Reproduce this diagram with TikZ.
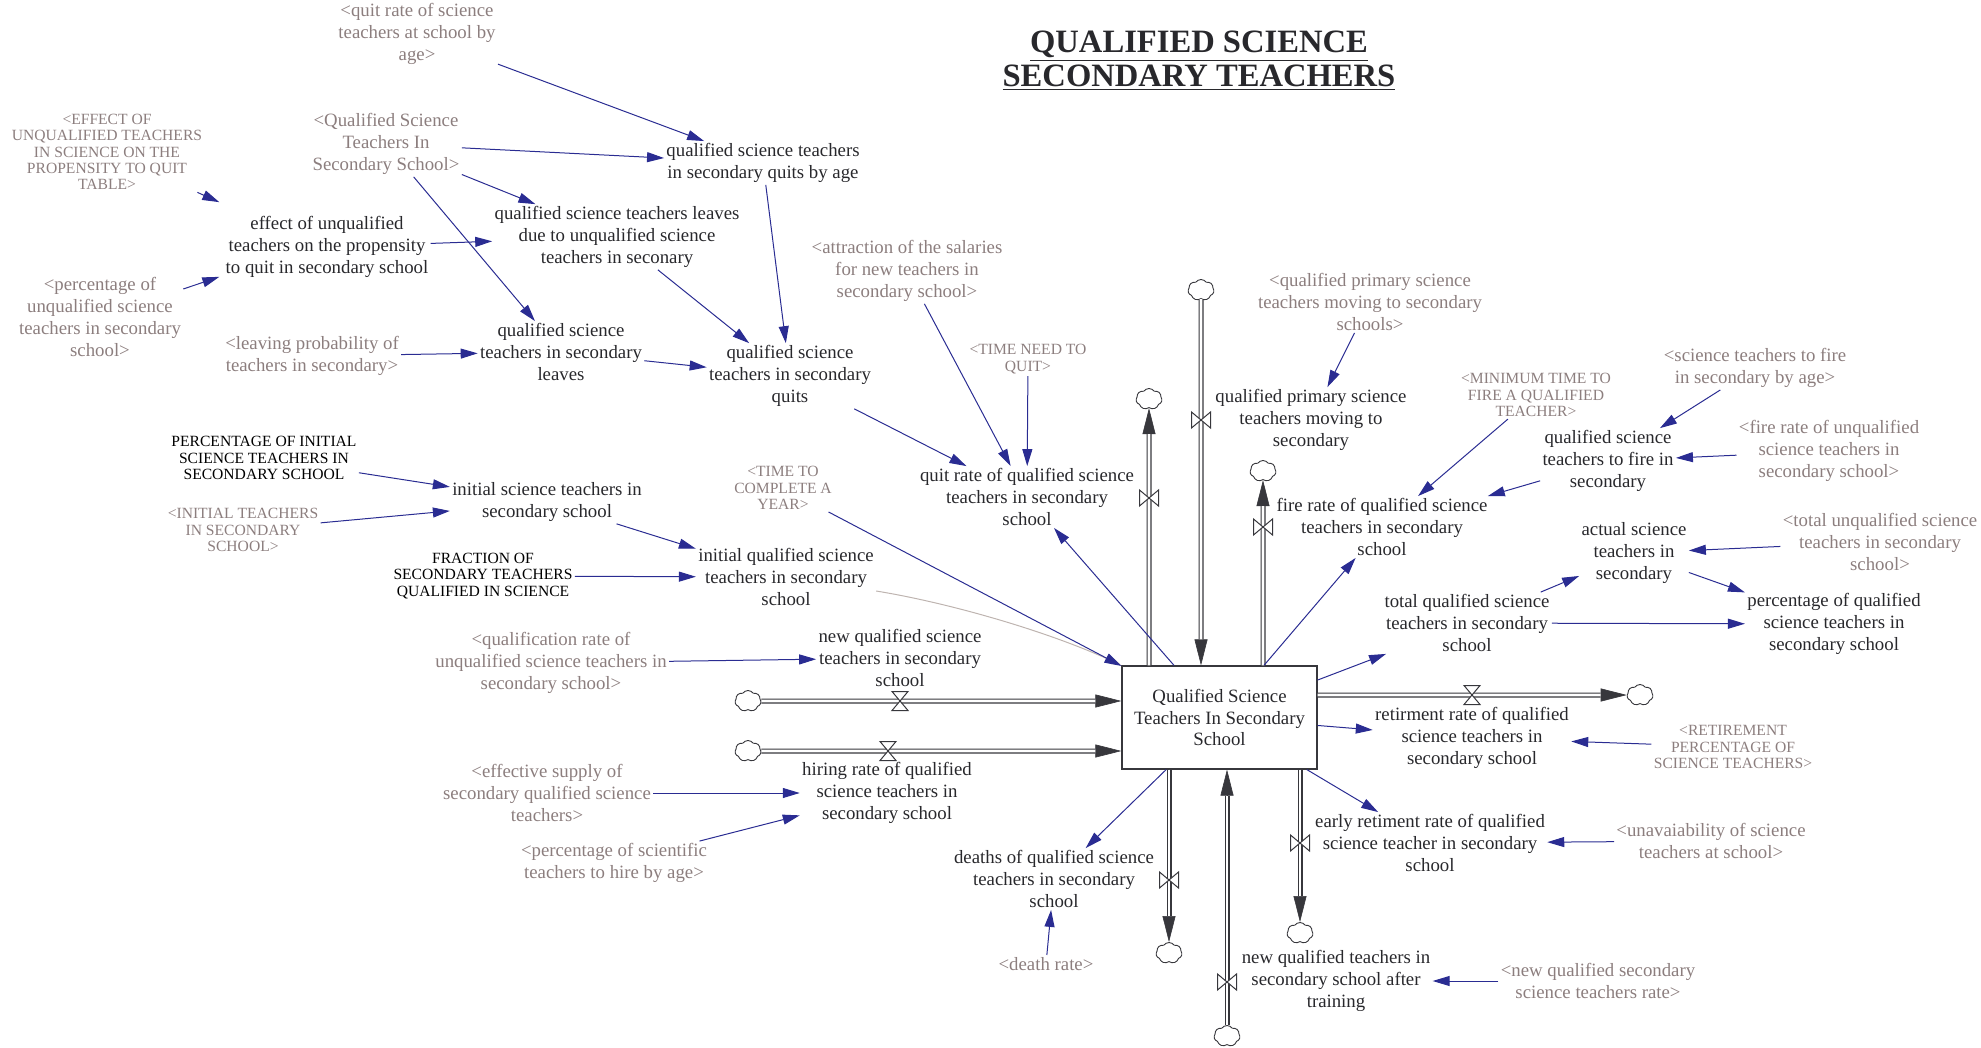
\documentclass[tikz,border=0pt]{standalone}
\usepackage{fontspec}
\setmainfont{Liberation Serif}
\usetikzlibrary{arrows.meta,shapes.symbols}

\definecolor{LinkBlue}{RGB}{42,44,146}
\definecolor{GhostGray}{RGB}{140,126,126}
\definecolor{InkGray}{RGB}{40,40,44}
\definecolor{PipeGray}{RGB}{55,55,60}
\definecolor{CurveGray}{RGB}{190,180,176}

\newcommand{\varfont}{\fontsize{9.4}{10.9}\selectfont}
\newcommand{\capsfont}{\fontsize{7.8}{8.2}\selectfont}
% pipe with its solid head: thin line + tip first, the double pipe on top
\newcommand{\flowpipe}[2]{\draw[pipehead] (#1) -- (#2); \draw[pipe] (#1) -- (#2);}

\tikzset{
	var/.style={align=center, font=\varfont, text=InkGray, inner sep=1pt},
	ghost/.style={var, text=GhostGray},
	capsvar/.style={align=center, font=\capsfont, text=black, inner sep=1pt},
	capsghost/.style={capsvar, text=GhostGray},
	stockbox/.style={var, draw=PipeGray, line width=0.6pt, minimum width=97.5pt, minimum height=51.5pt},
	sourcecloud/.style={cloud, cloud puffs=7, cloud puff arc=110, cloud ignores aspect, draw=PipeGray, fill=white, line width=0.45pt, minimum width=13pt, minimum height=10.5pt, inner sep=0pt},
	infolink/.style={draw=LinkBlue, line width=0.5pt, -{Triangle[length=8.5pt, width=5pt]}},
	curvelink/.style={draw=CurveGray, line width=0.5pt, -{Triangle[length=5pt, width=3pt]}},
	pipe/.style={draw=PipeGray, line width=0.55pt, double=white, double distance=1.4pt, shorten >=13pt},
	pipehead/.style={draw=PipeGray, fill=PipeGray, line width=0.3pt, -{Triangle[length=13pt, width=6.5pt]}},
	valve/.pic={\draw[PipeGray, fill=white, line width=0.5pt] (-8,-9.5) -- (8,-9.5) -- (-8,9.5) -- (8,9.5) -- cycle;}
}

\begin{document}
\begin{tikzpicture}[x=0.5pt,y=0.5pt,yscale=-1,xscale=1]
	\useasboundingbox (0,0) rectangle (1981,1048);

	% Title
	\node[align=center, font=\fontsize{16.3}{17}\selectfont\bfseries, text=InkGray] (title) at (1199,61) {\underline{QUALIFIED SCIENCE}\\\underline{SECONDARY TEACHERS}};

	% The stock
	\node[stockbox] (stock) at (1219.5,717.5) {Qualified Science\\Teachers In Secondary\\School};

	% Clouds at the free ends of the pipes
	\node[sourcecloud] (cloudNewQ) at (748,701) {};
	\node[sourcecloud] (cloudHire) at (748,751) {};
	\node[sourcecloud] (cloudPrim) at (1201,290) {};
	\node[sourcecloud] (cloudQuit) at (1149,399) {};
	\node[sourcecloud] (cloudFire) at (1263,471) {};
	\node[sourcecloud] (cloudRetire) at (1640,695) {};
	\node[sourcecloud] (cloudDeath) at (1169,953) {};
	\node[sourcecloud] (cloudEarly) at (1300,933) {};
	\node[sourcecloud] (cloudAfter) at (1227,1036) {};

	% Inflows
	\flowpipe{cloudNewQ}{cloudNewQ -| stock.west}
	\flowpipe{cloudHire}{cloudHire -| stock.west}
	\flowpipe{cloudPrim}{cloudPrim |- stock.north}
	\flowpipe{cloudAfter}{cloudAfter |- stock.south}

	% Outflows
	\flowpipe{cloudQuit |- stock.north}{cloudQuit}
	\flowpipe{cloudFire |- stock.north}{cloudFire}
	\flowpipe{cloudRetire -| stock.east}{cloudRetire}
	\flowpipe{cloudDeath |- stock.south}{cloudDeath}
	\flowpipe{cloudEarly |- stock.south}{cloudEarly}

	% Valves on the pipes
	\pic at (900,701) {valve};
	\pic at (888,751) {valve};
	\pic at (1472,695) {valve};
	\pic[rotate=90] at (1201,420) {valve};
	\pic[rotate=90] at (1149,498) {valve};
	\pic[rotate=90] at (1263,527) {valve};
	\pic[rotate=90] at (1169,880) {valve};
	\pic[rotate=90] at (1300,843) {valve};
	\pic[rotate=90] at (1227,982) {valve};

	% Flow rates
	\node[var] (newQ) at (900,658) {new qualified science\\teachers in secondary\\school};
	\node[var] (hiring) at (887,793) {hiring rate of qualified\\science teachers in\\secondary school};
	\node[var] (primaryMoving) at (1311,420) {qualified primary science\\teachers moving to\\secondary};
	\node[var] (quitRate) at (1027,497) {quit rate of qualified science\\teachers in secondary\\school};
	\node[var] (fireRate) at (1382,527) {fire rate of qualified science\\teachers in secondary\\school};
	\node[var] (retire) at (1472,738) {retirment rate of qualified\\science teachers in\\secondary school};
	\node[var] (early) at (1430,843) {early retiment rate of qualified\\science teacher in secondary\\school};
	\node[var] (deaths) at (1054,879) {deaths of qualified science\\teachers in secondary\\school};
	\node[var] (newAfter) at (1336,981) {new qualified teachers in\\secondary school after\\training};

	% Auxiliaries
	\node[var] (effectVar) at (327,247) {effect of unqualified\\teachers on the propensity\\to quit in secondary school};
	\node[var] (qsLeaves) at (561,352) {qualified science\\teachers in secondary\\leaves};
	\node[var] (qsLeavesUnq) at (617,237) {qualified science teachers leaves\\due to unqualified science\\teachers in seconary};
	\node[var] (quitsByAge) at (763,163) {qualified science teachers\\in secondary quits by age};
	\node[var] (qsQuits) at (790,376) {qualified science\\teachers in secondary\\quits};
	\node[var] (toFire) at (1608,461) {qualified science\\teachers to fire in\\secondary};
	\node[var] (actual) at (1634,553) {actual science\\teachers in\\secondary};
	\node[var] (totalQ) at (1467,623) {total qualified science\\teachers in secondary\\school};
	\node[var] (pctQ) at (1834,624) {percentage of qualified\\science teachers in\\secondary school};
	\node[var] (initSci) at (547,502) {initial science teachers in\\secondary school};
	\node[var] (initQ) at (786,577) {initial qualified science\\teachers in secondary\\school};

	% Constants
	\node[capsvar] (pctInit) at (264,458) {PERCENTAGE OF INITIAL\\SCIENCE TEACHERS IN\\SECONDARY SCHOOL};
	\node[capsvar] (fraction) at (483,576) {FRACTION OF\\SECONDARY TEACHERS\\QUALIFIED IN SCIENCE};

	% Shadow variables
	\node[ghost] (quitRateAge) at (417,34) {<quit rate of science\\teachers at school by\\age>};
	\node[capsghost] (effectTable) at (107,152) {<EFFECT OF\\UNQUALIFIED TEACHERS\\IN SCIENCE ON THE\\PROPENSITY TO QUIT\\TABLE>};
	\node[ghost] (qsGhost) at (386,144) {<Qualified Science\\Teachers In\\Secondary School>};
	\node[ghost] (pctUnqGhost) at (100,317) {<percentage of\\unqualified science\\teachers in secondary\\school>};
	\node[ghost] (leavingGhost) at (312,356) {<leaving probability of\\teachers in secondary>};
	\node[ghost] (attractionGhost) at (907,271) {<attraction of the salaries\\for new teachers in\\secondary school>};
	\node[capsghost] (timeQuitGhost) at (1028,359) {<TIME NEED TO\\QUIT>};
	\node[ghost] (primaryGhost) at (1370,302) {<qualified primary science\\teachers moving to secondary\\schools>};
	\node[capsghost] (minFireGhost) at (1536,395) {<MINIMUM TIME TO\\FIRE A QUALIFIED\\TEACHER>};
	\node[ghost] (fireAgeGhost) at (1755,368) {<science teachers to fire\\in secondary by age>};
	\node[ghost] (fireUnqGhost) at (1829,451) {<fire rate of unqualified\\science teachers in\\secondary school>};
	\node[ghost] (totalUnqGhost) at (1880,542) {<total unqualified science\\teachers in secondary\\school>};
	\node[capsghost] (retireGhost) at (1733,747) {<RETIREMENT\\PERCENTAGE OF\\SCIENCE TEACHERS>};
	\node[ghost] (unavGhost) at (1711,841) {<unavaiability of science\\teachers at school>};
	\node[ghost] (newSecGhost) at (1598,981) {<new qualified secondary\\science teachers rate>};
	\node[ghost] (deathGhost) at (1046,964) {<death rate>};
	\node[ghost] (qualRateGhost) at (551,663) {<qualification rate of\\unqualified science teachers in\\secondary school>};
	\node[ghost] (effSupplyGhost) at (547,793) {<effective supply of\\secondary qualified science\\teachers>};
	\node[ghost] (pctSciGhost) at (614,863) {<percentage of scientific\\teachers to hire by age>};
	\node[capsghost] (initGhost) at (243,530) {<INITIAL TEACHERS\\IN SECONDARY\\SCHOOL>};
	\node[capsghost] (timeYearGhost) at (783,488) {<TIME TO\\COMPLETE A\\YEAR>};

	% Links, upper left block
	\draw[infolink] (quitRateAge) -- (quitsByAge);
	\draw[infolink] (qsGhost) -- (quitsByAge);
	\draw[infolink] (qsGhost) -- (qsLeavesUnq);
	\draw[infolink] (qsGhost) -- (qsLeaves);
	\draw[infolink] (effectTable) -- ([xshift=-2pt,yshift=-6pt]effectVar.north west);
	\draw[infolink] (pctUnqGhost) -- ([xshift=-2pt,yshift=-1.5pt]effectVar.south west);
	\draw[infolink] (effectVar) -- (qsLeavesUnq);
	\draw[infolink] (leavingGhost) -- (qsLeaves);
	\draw[infolink] (qsLeaves) -- (qsQuits);
	\draw[infolink] (qsLeavesUnq) -- (qsQuits);
	\draw[infolink] (quitsByAge) -- (qsQuits);

	% Links into the quit rate
	\draw[infolink] (qsQuits) -- (quitRate);
	\draw[infolink] (attractionGhost) -- (quitRate);
	\draw[infolink] (timeQuitGhost) -- (quitRate);
	\draw[infolink] (stock) -- (quitRate);

	% Initial value
	\draw[infolink] (pctInit) -- (initSci);
	\draw[infolink] (initGhost) -- (initSci);
	\draw[infolink] (initSci) -- (initQ);
	\draw[infolink] (fraction) -- (initQ);
	\draw[curvelink] ([yshift=7pt]initQ.east) .. controls (950,603) and (1050,632) .. (stock.north west);
	\draw[infolink] (timeYearGhost) -- (stock);

	% Links to the left inflows
	\draw[infolink] (qualRateGhost) -- (newQ);
	\draw[infolink] (effSupplyGhost) -- (hiring);
	\draw[infolink] (pctSciGhost) -- (hiring);

	% Links on the right
	\draw[infolink] (primaryGhost) -- (primaryMoving);
	\draw[infolink] (minFireGhost) -- (fireRate);
	\draw[infolink] (fireAgeGhost) -- (toFire);
	\draw[infolink] (fireUnqGhost) -- (toFire);
	\draw[infolink] (toFire) -- (fireRate);
	\draw[infolink] (stock) -- (fireRate);
	\draw[infolink] (stock) -- (totalQ);
	\draw[infolink] (totalQ) -- (actual);
	\draw[infolink] (totalUnqGhost) -- (actual);
	\draw[infolink] (actual) -- (pctQ);
	\draw[infolink] (totalQ) -- (pctQ);
	\draw[infolink] (stock) -- (retire);
	\draw[infolink] (retireGhost) -- (retire);
	\draw[infolink] (stock) -- (early);
	\draw[infolink] (unavGhost) -- (early);

	% Links below the stock
	\draw[infolink] (stock) -- (deaths);
	\draw[infolink] (deathGhost) -- (deaths);
	\draw[infolink] (newSecGhost) -- (newAfter);
\end{tikzpicture}
\end{document}
